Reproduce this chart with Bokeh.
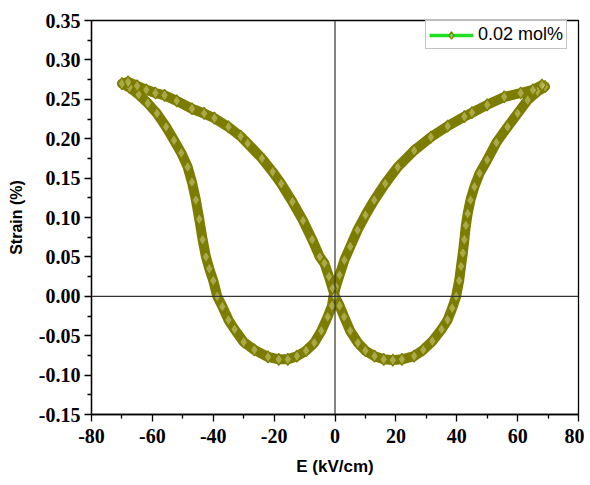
from bokeh.plotting import figure
from bokeh.models import (Range1d, FixedTicker, PrintfTickFormatter, Span,
                          Legend, LegendItem)
from bokeh.embed import file_html
from bokeh.resources import INLINE

# ---- data (E in kV/cm, strain in %) ----
# branch 1: origin -> right minimum -> switching -> right tip
e_up_right = [0, 1.5, 3, 5, 7.5, 10, 13, 16, 19, 22, 26, 29, 32, 35, 37, 38.5,
              39.8, 40.8, 41.4, 42, 42.5, 43, 43.6, 44.5, 45.8, 47.5, 50, 53,
              56.7, 60, 63.3, 66.5, 69]
s_up_right = [0.0, -0.012, -0.026, -0.044, -0.059, -0.069, -0.076, -0.080,
              -0.081, -0.080, -0.076, -0.068, -0.057, -0.042, -0.030, -0.015,
              0.0, 0.020, 0.038, 0.055, 0.072, 0.090, 0.105, 0.122, 0.139,
              0.156, 0.173, 0.195, 0.215, 0.232, 0.249, 0.260, 0.266]
# branch 2: right tip -> origin (outer branch)
e_down_right = [68, 65, 61, 55.6, 50, 45, 42.5, 37, 31.5, 26, 20.6, 16.5, 12.9,
                10, 7.4, 5, 3.1, 1.5, 0.3, -0.5]
s_down_right = [0.268, 0.262, 0.258, 0.253, 0.243, 0.233, 0.228, 0.216, 0.202,
                0.185, 0.164, 0.143, 0.122, 0.103, 0.084, 0.063, 0.046, 0.027,
                0.012, 0.0]
# branch 3: origin -> left minimum -> switching -> left tip
e_down_left = [-1, -2.4, -4.5, -6.8, -9.5, -12.5, -15.5, -18.5, -22, -26.5, -30,
               -33, -35, -37, -38.7, -40, -41.3, -42.4, -43.5, -44.6, -45.7,
               -47, -48.4, -50.5, -52.9, -55.5, -58.5, -61.5, -64.5, -67.5,
               -70]
s_down_left = [-0.012, -0.026, -0.044, -0.059, -0.069, -0.076, -0.080, -0.080,
               -0.077, -0.068, -0.058, -0.042, -0.030, -0.013, 0.0, 0.020,
               0.035, 0.050, 0.072, 0.098, 0.122, 0.145, 0.164, 0.182, 0.198,
               0.215, 0.232, 0.245, 0.256, 0.265, 0.270]
# branch 4: left tip -> origin (outer branch)
e_up_left = [-68, -65, -62, -59, -56, -52, -47, -43, -39.6, -35, -31, -28.7,
             -24, -20.5, -17.7, -14, -10.5, -7.5, -5, -3.5, -2, -0.8, 0]
s_up_left = [0.272, 0.267, 0.262, 0.258, 0.255, 0.248, 0.238, 0.232, 0.226,
             0.215, 0.203, 0.194, 0.175, 0.158, 0.143, 0.120, 0.096, 0.072,
             0.050, 0.042, 0.025, 0.010, 0.0]

x_ticks = [-80, -60, -40, -20, 0, 20, 40, 60, 80]
x_minor = [-70, -50, -30, -10, 10, 30, 50, 70]
y_ticks = [-0.15, -0.10, -0.05, 0.0, 0.05, 0.10, 0.15, 0.20, 0.25, 0.30, 0.35]
y_minor = [-0.125, -0.075, -0.025, 0.025, 0.075, 0.125, 0.175, 0.225, 0.275,
           0.325]
series_label = "0.02 mol%"

e_all = e_up_right + e_down_right + e_down_left + e_up_left
s_all = s_up_right + s_down_right + s_down_left + s_up_left

OLIVE = "#7c7c00"

p = figure(width=584, height=478, output_backend="svg", toolbar_location=None,
           x_range=Range1d(-80, 80), y_range=Range1d(-0.15, 0.35),
           min_border_left=91, min_border_right=6, min_border_top=20,
           min_border_bottom=63)
p.background_fill_color = "white"
p.border_fill_color = "white"
p.outline_line_color = "black"
p.outline_line_width = 1.3
p.xgrid.visible = False
p.ygrid.visible = False

# zero lines
p.add_layout(Span(location=0, dimension="height", line_color="#333333",
                  line_width=1.2))
p.add_layout(Span(location=0, dimension="width", line_color="#333333",
                  line_width=1.2))

green = p.line(e_all, s_all, line_color="#22dd22", line_width=3.5)
p.line(e_all, s_all, line_color=OLIVE, line_width=10, line_join="round",
       line_cap="round")
marks = p.scatter(e_all, s_all, marker="diamond", size=12, line_color=OLIVE,
                  line_width=1.3, fill_color="#e0e0a0", fill_alpha=0.45)

for ax, ticks, minor in ((p.xaxis[0], x_ticks, x_minor),
                         (p.yaxis[0], y_ticks, y_minor)):
    ax.ticker = FixedTicker(ticks=ticks, minor_ticks=minor)
    ax.major_label_text_font = "Times New Roman"
    ax.major_label_text_font_style = "bold"
    ax.major_label_text_font_size = "20px"
    ax.major_label_text_color = "black"
    ax.axis_label_text_font = "Liberation Sans"
    ax.axis_label_text_font_style = "bold"
    ax.axis_label_text_color = "black"
    ax.axis_line_color = "black"
    ax.axis_line_width = 1.3
    ax.major_tick_line_color = "black"
    ax.minor_tick_line_color = "black"
    ax.major_tick_line_width = 1.3
    ax.minor_tick_line_width = 1.3
    ax.major_tick_out = 7
    ax.major_tick_in = 0
    ax.minor_tick_out = 4
    ax.minor_tick_in = 0

p.xaxis[0].axis_label_text_font_size = "17px"
p.yaxis[0].axis_label_text_font_size = "16px"
p.xaxis[0].axis_label = "E (kV/cm)"
p.yaxis[0].axis_label = "Strain (%)"
p.xaxis[0].major_label_standoff = 7
p.yaxis[0].major_label_standoff = 4
p.xaxis[0].axis_label_standoff = 11
p.yaxis[0].axis_label_standoff = 11
p.yaxis[0].formatter = PrintfTickFormatter(format="%.2f")
p.xaxis[0].formatter = PrintfTickFormatter(format="%d")

legend = Legend(items=[LegendItem(label=series_label, renderers=[green, marks])],
                location=(334, 365), orientation="vertical")
legend.glyph_width = 44
legend.glyph_height = 18
legend.label_standoff = 5
legend.padding = 3
legend.margin = 0
legend.spacing = 0
legend.label_text_font = "Liberation Sans"
legend.label_text_font_size = "18px"
legend.label_text_color = "black"
legend.label_height = 18
legend.border_line_color = "#888888"
legend.border_line_width = 1
legend.background_fill_color = "white"
p.add_layout(legend, "center")

open("out.html", "w").write(file_html(p, INLINE))
